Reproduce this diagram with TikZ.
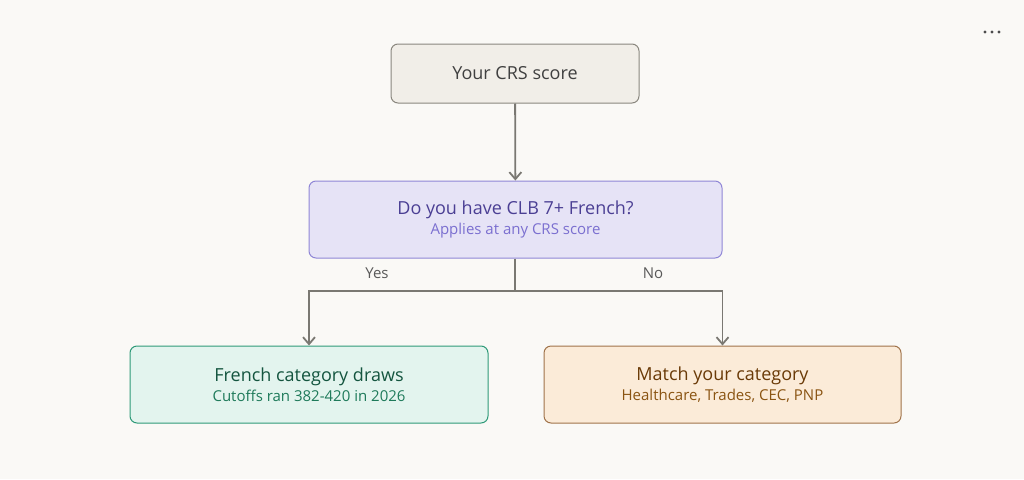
\documentclass[tikz,border=0pt]{standalone}
\usepackage{fontspec}
\setmainfont{Open Sans}
\usetikzlibrary{arrows.meta}
\definecolor{bg}{HTML}{FAF9F6}
\definecolor{line}{HTML}{7A7872}
\definecolor{topf}{HTML}{F1EEE8}\definecolor{topd}{HTML}{8A877F}
\definecolor{qf}{HTML}{E6E3F6}\definecolor{qd}{HTML}{8F86D6}\definecolor{qt}{HTML}{4B3F94}\definecolor{qs}{HTML}{7B6FD0}
\definecolor{gf}{HTML}{E3F4EE}\definecolor{gd}{HTML}{2E9A78}\definecolor{gt}{HTML}{14553F}\definecolor{gs}{HTML}{1E7A5A}
\definecolor{of}{HTML}{FBEBD8}\definecolor{od}{HTML}{A0734A}\definecolor{ot}{HTML}{6A3A07}\definecolor{os}{HTML}{8A5412}
\begin{document}
\begin{tikzpicture}[x=1pt,y=-1pt,
  box/.style={draw, rounded corners=7pt, line width=1pt, align=center, inner sep=0pt},
  arr/.style={draw=line, line width=1.8pt, -{Straight Barb[length=7pt,width=12pt]}},
  lab/.style={font=\fontsize{15}{18}\selectfont, text=black!65}]
\fill[bg] (0,0) rectangle (1024,479);
\useasboundingbox (0,0) rectangle (1024,479);
\node[box, fill=topf, draw=topd, minimum width=248pt, minimum height=59pt,
  font=\fontsize{18}{22}\selectfont, text=black!75] (top) at (515,73.5) {Your CRS score};
\node[box, fill=qf, draw=qd, minimum width=413pt, minimum height=77pt] (q) at (515.5,219.5)
  {{\fontsize{18}{22}\selectfont\color{qt}Do you have CLB 7+ French?}\\[3pt]
   {\fontsize{15}{18}\selectfont\color{qs}Applies at any CRS score}};
\node[box, fill=gf, draw=gd, minimum width=358pt, minimum height=77pt] (fr) at (309,384.5)
  {{\fontsize{18}{22}\selectfont\color{gt}French category draws}\\[3pt]
   {\fontsize{15}{18}\selectfont\color{gs}Cutoffs ran 382-420 in 2026}};
\node[box, fill=of, draw=od, minimum width=357pt, minimum height=77pt] (mt) at (722.5,384.5)
  {{\fontsize{18}{22}\selectfont\color{ot}Match your category}\\[3pt]
   {\fontsize{15}{18}\selectfont\color{os}Healthcare, Trades, CEC, PNP}};
\coordinate (j) at (515,291);
\draw[arr] (top) -- (q);
\draw[draw=line, line width=1.8pt] (q.south -| j) -- (j);
\draw[arr] (j) -| (fr.north);
\draw[arr] (j) -| (mt.north);
\node[lab] (yes) at (377,273) {Yes};
\node[lab] (no) at (653,273) {No};
\foreach \x in {985,992,999} \fill[black!70] (\x,32) circle (1.7pt);
\end{tikzpicture}
\end{document}
